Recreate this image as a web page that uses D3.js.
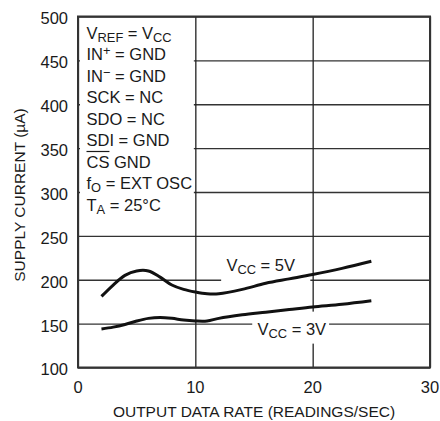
<!DOCTYPE html>
<html>
<head>
<meta charset="utf-8">
<script src="https://cdn.jsdelivr.net/npm/d3@7"></script>
<style>
  html, body { margin: 0; padding: 0; background: #fff; }
  svg { display: block; }
</style>
</head>
<body>
<div id="chart"></div>
<script>
// Supply current vs output data rate

const RATE_5V    = [2, 3, 4, 5, 6, 7, 8, 9, 10, 11, 12, 14, 16, 18, 20, 22.5, 25];
const CURRENT_5V = [181, 194, 205, 210, 210, 203, 194, 189, 186, 184, 184, 189, 196, 201, 206, 213, 221];
const RATE_3V    = [2, 3, 4, 5, 6, 7, 8, 9, 10, 11, 12, 14, 16, 18, 20, 22.5, 25];
const CURRENT_3V = [144, 146, 149, 153, 156, 157, 156, 154, 153, 153, 156, 160, 163, 166, 169, 172, 176];

const X_TICKS = [0, 10, 20, 30];
const Y_TICKS = [100, 150, 200, 250, 300, 350, 400, 450, 500];

// legend lines: [text, kind]  kind: "" normal, "sub", "sup"
const CONDITIONS = [
  [["V",""],["REF","sub"],[" = V",""],["CC","sub"]],
  [["IN",""],["+","sup"],[" = GND",""]],
  [["IN",""],["\u2212","sup"],[" = GND",""]],
  [["SCK = NC",""]],
  [["SDO = NC",""]],
  [["SDI = GND",""]],
  [["CS GND",""]],
  [["f",""],["O","sub"],[" = EXT OSC",""]],
  [["T",""],["A","sub"],[" = 25°C",""]]
];
const LABEL_5V = [["V",""],["CC","sub"],[" = 5V",""]];
const LABEL_3V = [["V",""],["CC","sub"],[" = 3V",""]];

const FONT = "'Liberation Sans', Arial, Helvetica, sans-serif";
const W = 440, H = 421;
const margin = { top: 16.5, right: 10, bottom: 53.5, left: 78 };
const width  = W - margin.left - margin.right;
const height = H - margin.top - margin.bottom;

const svg = d3.select("#chart").append("svg").attr("width", W).attr("height", H);
const g = svg.append("g").attr("transform", `translate(${margin.left},${margin.top})`);

const x = d3.scaleLinear().domain([0, 30]).range([0, width]);
const y = d3.scaleLinear().domain([100, 500]).range([height, 0]);

// grid
g.append("g").call(d3.axisLeft(y).tickValues(Y_TICKS).tickSize(-width).tickFormat(""))
  .call(a => {
    a.select(".domain").remove();
    a.selectAll(".tick line").attr("stroke", "#333").attr("stroke-width", 1.3);
  });
g.append("g").call(d3.axisBottom(x).tickValues(X_TICKS).tickSize(height).tickFormat(""))
  .call(a => {
    a.select(".domain").remove();
    a.selectAll(".tick line").attr("stroke", "#222").attr("stroke-width", 1.3);
  });

// white knock-outs behind text
g.append("rect").attr("x", 2).attr("y", 2)
  .attr("width", x(10) - 3.5).attr("height", y(300) - 2 + 22)
  .attr("fill", "#fff");
g.append("rect").attr("x", x(12.2)).attr("y", y(200) - 8)
  .attr("width", x(19.8) - x(12.2)).attr("height", 14).attr("fill", "#fff");
g.append("rect").attr("x", x(14.85)).attr("y", y(150) - 12)
  .attr("width", x(21.4) - x(14.85)).attr("height", 32).attr("fill", "#fff");

// frame
g.append("rect").attr("width", width).attr("height", height)
  .attr("fill", "none").attr("stroke", "#333").attr("stroke-width", 2);

// curves
const line = d3.line().x(d => x(d[0])).y(d => y(d[1])).curve(d3.curveCatmullRom.alpha(0.5));
[[RATE_5V, CURRENT_5V], [RATE_3V, CURRENT_3V]].forEach(([xs, ys]) => {
  g.append("path").datum(d3.zip(xs, ys)).attr("d", line)
    .attr("fill", "none").attr("stroke", "#111").attr("stroke-width", 3)
    .attr("stroke-linecap", "butt");
});

// tick labels
g.selectAll(".ylab").data(Y_TICKS).join("text")
  .attr("x", -10).attr("y", d => y(d)).attr("dy", "0.48em")
  .attr("text-anchor", "end").attr("font-family", FONT).attr("font-size", "16.5px")
  .attr("fill", "#1a1a1a").text(d => d);
g.selectAll(".xlab").data(X_TICKS).join("text")
  .attr("x", d => x(d)).attr("y", height + 25.5)
  .attr("text-anchor", "middle").attr("font-family", FONT).attr("font-size", "16.5px")
  .attr("fill", "#1a1a1a").text(d => d);

// axis titles
svg.append("text").attr("x", margin.left + width / 2).attr("y", 417)
  .attr("text-anchor", "middle").attr("font-family", FONT).attr("font-size", "15.5px")
  .attr("fill", "#1a1a1a").text("OUTPUT DATA RATE (READINGS/SEC)");
svg.append("text").attr("transform", "rotate(-90)")
  .attr("x", -195).attr("y", 25)
  .attr("text-anchor", "middle").attr("font-family", FONT).attr("font-size", "15.5px")
  .attr("fill", "#1a1a1a").text("SUPPLY CURRENT (\u00B5A)");

// rich text helper
function richText(parent, segs, px, py, size) {
  const t = parent.append("text").attr("x", px).attr("y", py)
    .attr("font-family", FONT).attr("font-size", size + "px").attr("fill", "#1a1a1a");
  segs.forEach(([s, kind]) => {
    const ts = t.append("tspan").text(s);
    if (kind === "sub") ts.attr("font-size", (size * 0.78) + "px").attr("baseline-shift", "-22%");
    if (kind === "sup") ts.attr("font-size", (size * 0.78) + "px").attr("baseline-shift", "38%");
  });
  return t;
}

CONDITIONS.forEach((segs, i) => {
  const t = richText(g, segs, 8.5, 22 + i * 21.5, 16.5);
  if (i === 6) {
    const w = t.node().getSubStringLength(0, 2);
    g.append("line").attr("x1", 8.5).attr("x2", 8.5 + w)
      .attr("y1", 22 + i * 21.5 - 16).attr("y2", 22 + i * 21.5 - 16)
      .attr("stroke", "#1a1a1a").attr("stroke-width", 1.2);
  }
});

richText(g, LABEL_5V, x(12.65), y(200) - 8.5, 16.5);
richText(g, LABEL_3V, x(15.3), y(150) + 11.5, 16.5);
</script>
</body>
</html>
